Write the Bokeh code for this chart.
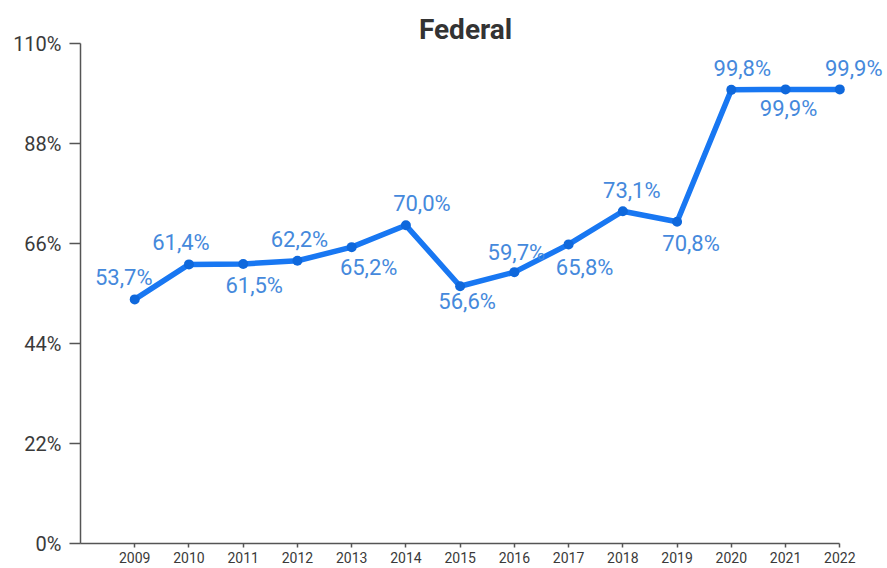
from bokeh.plotting import figure
from bokeh.models import ColumnDataSource, LabelSet, Label, FixedTicker, Range1d
from bokeh.core.properties import value
from bokeh.embed import file_html
from bokeh.resources import INLINE

# ---- data ----
years = [2009, 2010, 2011, 2012, 2013, 2014, 2015, 2016, 2017, 2018, 2019, 2020, 2021, 2022]
values = [53.7, 61.4, 61.5, 62.2, 65.2, 70.0, 56.6, 59.7, 65.8, 73.1, 70.8, 99.8, 99.9, 99.9]
value_labels = ["53,7%", "61,4%", "61,5%", "62,2%", "65,2%", "70,0%", "56,6%",
                "59,7%", "65,8%", "73,1%", "70,8%", "99,8%", "99,9%", "99,9%"]
y_ticks = [0, 22, 44, 66, 88, 110]
y_tick_labels = ["0%", "22%", "44%", "66%", "88%", "110%"]
year_labels = [str(y) for y in years]
title_text = "Federal"

# ---- label placement (pixels, styling only) ----
dx = [-11, -8, 11, 2, 17, 16, 7, 2, 16, 9, 14, 11, 3, 14]
dy = [22, 22, -22, 21, -20, 22, -15, 20, -23, 21, -22, 21, -19, 21]

FONT = "Roboto"
LINE_COLOR = "#1877f2"
LABEL_COLOR = "#4589dc"
AXIS_COLOR = "#555555"
TEXT_COLOR = "#3a3a3a"

src = ColumnDataSource(dict(x=years, y=values, text=value_labels, dx=dx, dy=dy))

p = figure(width=887, height=568, output_backend="svg", toolbar_location=None,
           x_range=Range1d(2008, 2022.88), y_range=Range1d(0, 119.46),
           min_border_left=80, min_border_right=0, min_border_top=0, min_border_bottom=25)
p.outline_line_color = None
p.xgrid.grid_line_color = None
p.ygrid.grid_line_color = None
p.background_fill_color = "white"
p.border_fill_color = "white"

p.line("x", "y", source=src, line_color=LINE_COLOR, line_width=5.5, line_join="round", line_cap="round")
p.scatter("x", "y", source=src, size=10, fill_color="#0f68dc", line_color=None)

labels = LabelSet(x="x", y="y", text="text", source=src, x_offset="dx", y_offset="dy",
                  text_align="center", text_baseline="middle", text_font=value(FONT),
                  text_font_size=value("22px"), text_color=value(LABEL_COLOR))
p.add_layout(labels)

title = Label(x=2015.1, y=113.08, text=title_text, text_align="center", text_baseline="middle",
              text_font=FONT, text_font_style="bold",
              text_font_size="28px", text_color="#333333")
p.add_layout(title)

# y axis
ya = p.yaxis[0]
ya.bounds = (0, 110)
ya.ticker = FixedTicker(ticks=y_ticks)
ya.major_label_overrides = {t: l for t, l in zip(y_ticks, y_tick_labels)}
ya.major_tick_out = 11
ya.major_tick_in = 0
ya.minor_tick_line_color = None
ya.axis_line_color = AXIS_COLOR
ya.axis_line_width = 1.5
ya.major_tick_line_color = AXIS_COLOR
ya.major_tick_line_width = 1.5
ya.major_label_text_font = FONT
ya.major_label_text_font_size = "20px"
ya.major_label_text_color = TEXT_COLOR
ya.major_label_standoff = 8

# x axis
xa = p.xaxis[0]
xa.bounds = (2008, 2022)
xa.ticker = FixedTicker(ticks=years)
xa.major_label_overrides = {y: l for y, l in zip(years, year_labels)}
xa.major_tick_out = 4
xa.major_tick_in = 0
xa.minor_tick_line_color = None
xa.axis_line_color = AXIS_COLOR
xa.axis_line_width = 1.5
xa.major_tick_line_color = AXIS_COLOR
xa.major_tick_line_width = 1.5
xa.major_label_text_font = FONT
xa.major_label_text_font_size = "14px"
xa.major_label_text_color = TEXT_COLOR
xa.major_label_standoff = 4

open("out.html", "w").write(file_html(p, INLINE))
